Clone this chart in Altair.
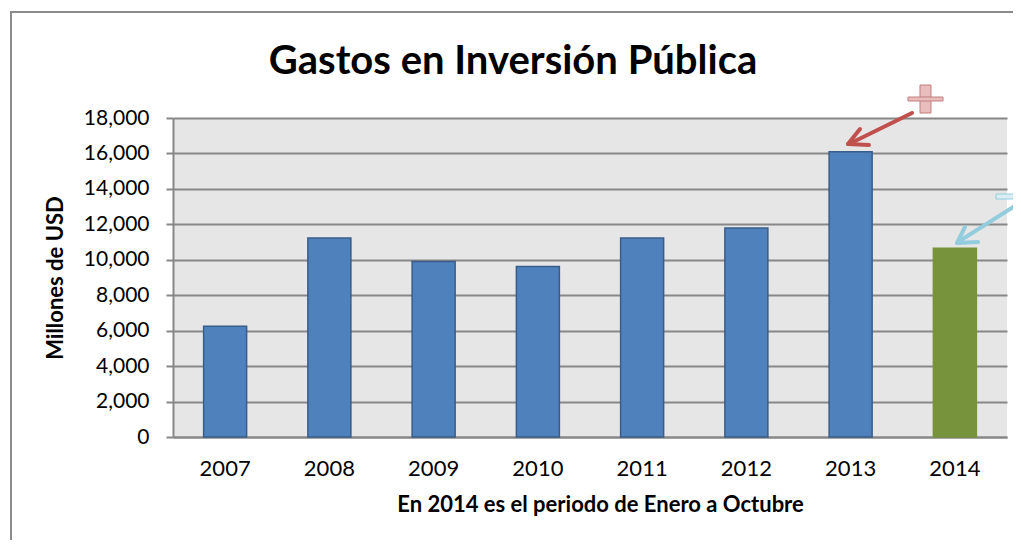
import altair as alt
import pandas as pd

years = ["2007", "2008", "2009", "2010", "2011", "2012", "2013", "2014"]
values = [6250, 11230, 9900, 9620, 11230, 11800, 16100, 10650]

title_text = "Gastos en Inversión Pública"
y_title = "Millones de USD"
x_title = "En 2014 es el periodo de Enero a Octubre"

df = pd.DataFrame({"year": years, "value": values})

FONT = "Lato"
W, H = 834, 319
GRID = "#878787"

base = alt.Chart(df)

bars = base.mark_bar(size=43, strokeWidth=1.5).encode(
    x=alt.X("year:N", sort=years, title=x_title,
            scale=alt.Scale(paddingInner=0, paddingOuter=0),
            axis=alt.Axis(labelAngle=0, labelFontSize=22, labelColor="black",
                          labelFont=FONT, labelPadding=21, ticks=False, grid=False,
                          domainColor=GRID, domainWidth=2,
                          titleFont=FONT, titleFontSize=22, titleFontWeight="bold",
                          titleColor="black", titlePadding=15, titleX=W / 2 + 10)),
    y=alt.Y("value:Q", title=y_title,
            scale=alt.Scale(domain=[0, 18000], nice=False),
            axis=alt.Axis(values=list(range(0, 18001, 2000)), format=",.0f",
                          labelFontSize=21, labelColor="black", labelFont=FONT,
                          labelPadding=17, tickSize=7, tickColor=GRID, tickWidth=2,
                          domainColor=GRID, domainWidth=2, grid=True,
                          gridColor=GRID, gridWidth=2,
                          titleFont=FONT, titleFontSize=22, titleFontWeight="bold",
                          titleColor="black", titlePadding=16)),
    fill=alt.condition(alt.datum.year == "2014", alt.value("#77933C"), alt.value("#4F81BD")),
    stroke=alt.condition(alt.datum.year == "2014", alt.value("#77933C"), alt.value("#385D8A")),
)

one = alt.Data(values=[{}])


def seg(x1, y1, x2, y2, color, w):
    return alt.Chart(one).mark_rule(color=color, strokeWidth=w, strokeCap="round").encode(
        x=alt.value(x1), y=alt.value(y1), x2=alt.value(x2), y2=alt.value(y2))


def box(x1, y1, x2, y2, fill, stroke):
    return alt.Chart(one).mark_rect(fill=fill, stroke=stroke, strokeWidth=1).encode(
        x=alt.value(x1), y=alt.value(y1), x2=alt.value(x2), y2=alt.value(y2))


border = alt.Chart(one).mark_rect(fill=None, stroke="#8C8C8C", strokeWidth=2).encode(
    x=alt.value(-162), y=alt.value(-106), x2=alt.value(1100), y2=alt.value(600))

title = alt.Chart(one).mark_text(font=FONT, fontSize=40, fontWeight="bold",
                                 color="black", baseline="alphabetic").encode(
    x=alt.value(513 - 173), y=alt.value(74 - 118), text=alt.value(title_text))

RED = "#C0504D"
BLUE = "#93CDDD"
ann = [
    # plus sign
    box(747, -33, 758, -5, "#E8BDBC", "#C07F80"),
    box(735, -21, 770, -17, "#E8BDBC", "#C07F80"),
    # red arrow
    seg(739, -5, 676, 26, RED, 4),
    seg(675, 26, 687, 11, RED, 4),
    seg(675, 26, 696, 27, RED, 4),
    # minus sign
    box(823, 76, 860, 81, "#DAEEF3", "#93CDDD"),
    # blue arrow
    seg(848, 84, 785, 124, BLUE, 4),
    seg(784, 125, 792, 109, BLUE, 4),
    seg(784, 125, 805, 124, BLUE, 4),
]

chart = alt.layer(border, bars, title, *ann).properties(
    width=W, height=H,
    autosize=alt.AutoSizeParams(type="none"),
    padding={"left": 165, "top": 110, "right": 6, "bottom": 103},
    background="white",
).configure_view(fill="#E6E6E6", stroke=None)

chart.save("out.html", embed_options={"renderer": "svg", "actions": False})
